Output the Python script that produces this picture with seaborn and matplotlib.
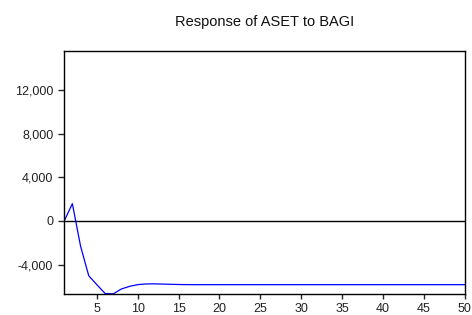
import matplotlib
matplotlib.use("Agg")
import matplotlib.pyplot as plt
import seaborn as sns
import pandas as pd
from matplotlib.ticker import FuncFormatter

## Impulse response values (periods 1..50)
periods = list(range(1, 51))
response = [0, 1590, -2300, -5020, -5850, -6650, -6690, -6240, -6000, -5840,
            -5780, -5770, -5790, -5810, -5830, -5840, -5845, -5845, -5845, -5845,
            -5845, -5845, -5845, -5845, -5845, -5845, -5845, -5845, -5845, -5845,
            -5845, -5845, -5845, -5845, -5845, -5845, -5845, -5845, -5845, -5845,
            -5845, -5845, -5845, -5845, -5845, -5845, -5845, -5845, -5845, -5845]
x_ticks = [5, 10, 15, 20, 25, 30, 35, 40, 45, 50]
y_ticks = [-4000, 0, 4000, 8000, 12000]

df = pd.DataFrame({'period': periods, 'response': response})

sns.set_style("ticks")
plt.rcParams['font.family'] = ['Liberation Sans', 'DejaVu Sans']

fig = plt.figure(figsize=(4.72, 3.15), dpi=100)
ax = fig.add_axes([0.136, 0.0667, 0.8485, 0.7713])

ax.axhline(0, color='black', linewidth=1.0, zorder=1)
sns.lineplot(data=df, x='period', y='response', color='#0000ff',
             linewidth=0.9, ax=ax, zorder=2)

ax.set_xlim(1, 50)
ax.set_ylim(-6700, 15600)
ax.set_xticks(x_ticks)
ax.set_yticks(y_ticks)
ax.yaxis.set_major_formatter(FuncFormatter(lambda v, p: '{:,.0f}'.format(v)))
ax.set_xlabel('')
ax.set_ylabel('')
ax.tick_params(axis='y', direction='out', length=4.3, width=1,
               labelsize=9, labelcolor='#222222', pad=3.5)
ax.tick_params(axis='x', direction='out', length=3.8, width=1,
               labelsize=9, labelcolor='#222222', pad=2.5)
for s in ax.spines.values():
    s.set_visible(True)
    s.set_linewidth(1.0)
    s.set_color('black')

ax.set_title('Response of ASET to BAGI', fontsize=10.5, pad=18, color='#111111')

fig.savefig('out.png', dpi=100)
